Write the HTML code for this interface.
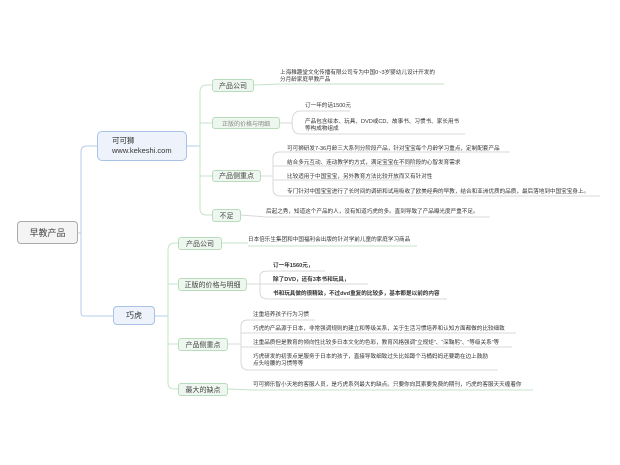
<!DOCTYPE html>
<html><head><meta charset="utf-8"><style>
html,body{margin:0;padding:0;background:#fff;}
#c{position:relative;width:620px;height:465px;overflow:hidden;font-family:"Liberation Sans","Noto Sans CJK SC",sans-serif;color:#333;}
.b{position:absolute;box-sizing:border-box;display:flex;align-items:center;justify-content:center;white-space:nowrap;}
.g{background:#eef7ef;border:1px solid #b9dcbd;border-radius:3px;font-size:7px;color:#444;}
.t{position:absolute;font-size:5.6px;line-height:7px;white-space:nowrap;color:#333;}
.bd{font-weight:bold;}
svg{position:absolute;left:0;top:0;}
</style></head><body><div id="c">
<svg width="620" height="465" fill="none" stroke-width="1">
<g stroke="#b5cde9">
<path d="M78 233 H81 M81 152 V313 Q81 316 84 316 H113 M81 152 Q81 146 87 146 H97"/>
<path d="M187 146 H200"/>
<path d="M155 316 H168"/>
</g>
<g stroke="#c6e3c9">
<path d="M200 92 V209 M200 92 Q200 85 207 85 H212 M200 123 H212 M200 176 H212 M200 209 Q200 215 207 215 H212"/>
<path d="M254 85 L280 84 H444"/>
<path d="M168 250 V383 M168 250 Q168 243 175 243 H178 M168 284 H178 M168 344 H178 M168 383 Q168 389 175 389 H178"/>
<path d="M222 243 H248 M248 246 H417"/>
<path d="M228 389 L253 390 H533"/>
</g>
<g stroke="#d8d8d8">
<path d="M280 123 H292 M292 123 Q292 111 300 111 H350 M292 123 Q292 134 300 134 H465"/>
<path d="M261 176 H273 M273 176 V158 Q273 152 280 152 H510 M273 176 V188 Q273 196 280 196 H600 M273 166 H420 M273 180 H400"/>
<path d="M241 215 L266 217 H490"/>
<path d="M247 284 H260 M260 284 V276 Q260 271 268 271 H325 M260 284 H368 M260 284 V292 Q260 299 268 299 H447"/>
<path d="M228 344 H241 M241 344 V326 Q241 320 248 320 H315 M241 333 H516 M241 347 H512 M241 344 V362 Q241 370 248 370 H498"/>
</g>
</svg>
<div class="b" style="left:17px;top:221px;width:61px;height:23px;background:#f4f4f4;border:1px solid #aaa;border-radius:4px;font-size:9px;color:#444;">早教产品</div>
<div class="b" style="left:97px;top:131px;width:90px;height:30px;background:#eef3fb;border:1px solid #a9c3e6;border-radius:5px;font-size:7.5px;line-height:10px;justify-content:flex-start;padding-left:14px;color:#333;white-space:normal;display:block;padding-top:4px;">可可狮<br>www.kekeshi.com</div>
<div class="b" style="left:113px;top:306px;width:42px;height:19px;background:#eef3fb;border:1px solid #a9c3e6;border-radius:4px;font-size:8px;">巧虎</div>

<div class="b g" style="left:212px;top:79px;width:42px;height:13px;">产品公司</div>
<div class="b g" style="left:212px;top:117px;width:68px;height:12px;font-size:6px;color:#888;">正版的价格与明细</div>
<div class="b g" style="left:212px;top:170px;width:49px;height:12px;">产品侧重点</div>
<div class="b g" style="left:212px;top:209px;width:29px;height:13px;">不足</div>

<div class="t" style="left:280px;top:70px;">上海稚趣堂文化传播有限公司专为中国0~3岁婴幼儿设计开发的<br>分月龄家庭早教产品</div>
<div class="t" style="left:305px;top:103px;">订一年的话1500元</div>
<div class="t" style="left:305px;top:119px;">产品包含绘本、玩具、DVD或CD、故事书、习惯书、家长用书<br>等构成物组成</div>
<div class="t" style="left:287px;top:146px;">可可狮研发7-36月龄三大系列分阶段产品，针对宝宝每个月龄学习重点，定制配套产品</div>
<div class="t" style="left:287px;top:160px;">结合多元互动、连动教学的方式，满足宝宝在不同阶段的心智发育需求</div>
<div class="t" style="left:287px;top:174px;">比较适用于中国宝宝，另外教育方法比较开放而又有针对性</div>
<div class="t" style="left:287px;top:189px;">专门针对中国宝宝进行了长时间的调研和试用吸收了欧美经典的早教，结合和亚洲优质的品质，最后落地到中国宝宝身上。</div>
<div class="t" style="left:266px;top:209px;">后起之秀，知道这个产品的人，没有知道巧虎的多。直到导致了产品曝光度严重不足。</div>

<div class="b g" style="left:178px;top:237px;width:44px;height:13px;">产品公司</div>
<div class="b g" style="left:178px;top:278px;width:69px;height:13px;">正版的价格与明细</div>
<div class="b g" style="left:178px;top:338px;width:50px;height:13px;">产品侧重点</div>
<div class="b g" style="left:178px;top:383px;width:50px;height:13px;">最大的缺点</div>

<div class="t" style="left:248px;top:237px;">日本倍乐生集团和中国福利会出版的针对学前儿童的家庭学习商品</div>
<div class="t bd" style="left:273px;top:263px;">订一年1560元，</div>
<div class="t bd" style="left:273px;top:277px;">除了DVD，还有3本书和玩具，</div>
<div class="t bd" style="left:273px;top:291px;">书和玩具做的很精致，不过dvd重复的比较多，基本都是以前的内容</div>
<div class="t" style="left:253px;top:312px;">注重培养孩子行为习惯</div>
<div class="t" style="left:253px;top:326px;">巧虎的产品源于日本，非常强调规则的建立和等级关系，关于生活习惯培养和认知方面都做的比较细致</div>
<div class="t" style="left:253px;top:340px;">注重品质但是教育的倾向性比较多日本文化的色彩，教育风格强调“立规矩”、“深鞠躬”、“等级关系”等</div>
<div class="t" style="left:253px;top:354px;">巧虎研发的初衷点是服务于日本的孩子，直接导致细致过头比如蹲个马桶妈妈还要跪在边上鼓励<br>点头哈腰的习惯等等</div>
<div class="t" style="left:253px;top:382px;">可可狮乐智小天地的客服人员，是巧虎系列最大的缺点。只要你向其索要免费的期刊，巧虎的客服天天缠着你</div>
</div></body></html>
